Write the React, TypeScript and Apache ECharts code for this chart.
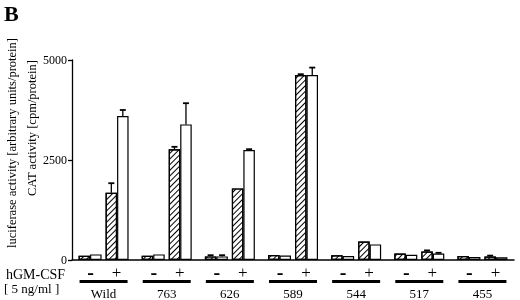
import React, { useEffect, useRef } from "react";
import * as echarts from "echarts";

const groups = ["Wild", "763", "626", "589", "544", "517", "455"];
const negHatched = [108, 108, 90, 125, 120, 160, 100];
const negWhite = [140, 140, 90, 110, 100, 130, 75];
const posHatched = [1680, 2770, 1790, 4625, 460, 210, 85];
const posWhite = [3600, 3390, 2750, 4625, 390, 160, 70];
const errNegHatched = [null, null, 120, null, null, null, null];
const errNegWhite = [null, null, 120, null, null, null, null];
const errPosHatched = [1920, 2830, null, 4645, null, 240, 110];
const errPosWhite = [3750, 3920, 2770, 4810, null, 180, null];
const yTicks = [0, 2500, 5000];

const FONT = "Liberation Serif";
const BAR_W = 11.5;
const SPACER_W = 4;
// bar centre offsets relative to the category centre
const OFFSETS = [
  -(SPACER_W / 2 + BAR_W * 1.5),
  -(SPACER_W / 2 + BAR_W * 0.5),
  SPACER_W / 2 + BAR_W * 0.5,
  SPACER_W / 2 + BAR_W * 1.5,
];

export default function App() {
  const ref = useRef<HTMLDivElement>(null);
  useEffect(() => {
    if (!ref.current) return;
    const chart = echarts.init(ref.current, undefined, { renderer: "svg" });
    const hatch = {
      symbol: "rect",
      symbolSize: 1,
      color: "#000",
      dashArrayX: [1, 0],
      dashArrayY: [1, 2.4],
      rotation: -Math.PI / 4,
    };
    const barBase = (name: string, data: number[], hatched: boolean) => ({
      name,
      type: "bar",
      data,
      barWidth: BAR_W,
      barGap: "0%",
      itemStyle: {
        color: "#fff",
        borderColor: "#000",
        borderWidth: 1.2,
        ...(hatched ? { decal: hatch } : {}),
      },
      silent: true,
    });
    const errData: any[] = [];
    const errSets = [
      [negHatched, errNegHatched],
      [negWhite, errNegWhite],
      [posHatched, errPosHatched],
      [posWhite, errPosWhite],
    ];
    errSets.forEach(([vals, errs], si) => {
      (errs as (number | null)[]).forEach((e, i) => {
        if (e != null) errData.push([i, (vals as number[])[i], e, si]);
      });
    });
    chart.setOption({
      animation: false,
      grid: { left: 72, top: 60, width: 442, height: 200 },
      xAxis: {
        type: "category",
        data: groups,
        axisLine: { lineStyle: { color: "#000", width: 1.5 } },
        axisTick: { show: false },
        axisLabel: {
          interval: 0,
          margin: 4,
          color: "#000",
          fontFamily: FONT,
          formatter: (v: string) => `{s|-}{p|+}\n{u| }\n{n|${v}}`,
          rich: {
            s: { width: 26, align: "center", fontSize: 20, fontWeight: "bold", lineHeight: 16, fontFamily: FONT, color: "#000" },
            p: { width: 26, align: "center", fontSize: 17, lineHeight: 16, fontFamily: FONT, color: "#000" },
            u: { width: 48, height: 3, lineHeight: 3, fontSize: 1, align: "center", backgroundColor: "#000" },
            n: { width: 52, align: "center", fontSize: 13, lineHeight: 20, fontFamily: FONT, color: "#000" },
          },
        },
      },
      yAxis: {
        type: "value",
        min: yTicks[0],
        max: yTicks[yTicks.length - 1],
        interval: yTicks[1] - yTicks[0],
        splitLine: { show: false },
        axisLine: { show: true, lineStyle: { color: "#000", width: 1.3 } },
        axisTick: { show: true, length: 4, lineStyle: { color: "#000", width: 1.3 } },
        axisLabel: { color: "#000", fontFamily: FONT, fontSize: 12, margin: 5, formatter: (v: number) => String(v) },
      },
      series: [
        barBase("neg-hatched", negHatched, true),
        barBase("neg-white", negWhite, false),
        {
          name: "spacer",
          type: "bar",
          data: groups.map(() => 0),
          barWidth: SPACER_W,
          barGap: "0%",
          itemStyle: { color: "rgba(0,0,0,0)", borderWidth: 0 },
          silent: true,
        },
        barBase("pos-hatched", posHatched, true),
        barBase("pos-white", posWhite, false),
        {
          name: "err",
          type: "custom",
          data: errData,
          encode: { x: 0, y: [1, 2] },
          silent: true,
          z: 5,
          renderItem: (params: any, api: any) => {
            const off = OFFSETS[api.value(3)];
            const p1 = api.coord([api.value(0), api.value(1)]);
            const p2 = api.coord([api.value(0), api.value(2)]);
            const x = p1[0] + off;
            return {
              type: "group",
              children: [
                { type: "line", shape: { x1: x, y1: p1[1], x2: x, y2: p2[1] }, style: { stroke: "#000", lineWidth: 1.3 } },
                { type: "line", shape: { x1: x - 3, y1: p2[1], x2: x + 3, y2: p2[1] }, style: { stroke: "#000", lineWidth: 1.8 } },
              ],
            };
          },
        },
      ],
      graphic: [
        { type: "text", left: 4, top: 2, style: { text: "B", font: `bold 22px ${FONT}`, fill: "#000" } },
        {
          type: "text", x: 12, y: 143, rotation: Math.PI / 2,
          style: { text: "luciferase activity [arbitrary units/protein]", font: `12.5px ${FONT}`, fill: "#000", textAlign: "center", textVerticalAlign: "middle" },
        },
        {
          type: "text", x: 32, y: 128, rotation: Math.PI / 2,
          style: { text: "CAT activity [cpm/protein]", font: `12.5px ${FONT}`, fill: "#000", textAlign: "center", textVerticalAlign: "middle" },
        },
        { type: "text", x: 6, y: 274, style: { text: "hGM-CSF", font: `14px ${FONT}`, fill: "#000", textVerticalAlign: "middle" } },
        { type: "text", x: 4, y: 288, style: { text: "[ 5 ng/ml ]", font: `13px ${FONT}`, fill: "#000", textVerticalAlign: "middle" } },
      ],
    });
    return () => chart.dispose();
  }, []);
  return <div ref={ref} style={{ width: 520, height: 300, position: "fixed", left: 0, top: 0 }} />;
}
